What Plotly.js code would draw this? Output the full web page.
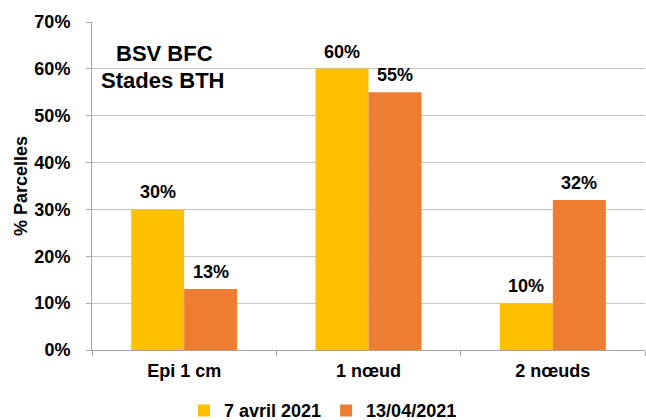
<!DOCTYPE html>
<html><head><meta charset="utf-8">
<script src="https://cdn.plot.ly/plotly-3.0.1.min.js"></script>
<style>html,body{margin:0;padding:0;background:#fff}#c{width:646px;height:420px}</style>
</head><body><div id="c"></div>
<script>
const categories = ["Epi 1 cm", "1 nœud", "2 nœuds"];
const seriesNames = ["7 avril 2021", "13/04/2021"];
const series1 = [0.30, 0.60, 0.10];
const series2 = [0.13, 0.55, 0.32];
const yTicks = [0, 0.1, 0.2, 0.3, 0.4, 0.5, 0.6, 0.7];
const yTickLabels = ["0%", "10%", "20%", "30%", "40%", "50%", "60%", "70%"];
const colors = ["#FFC000", "#ED7D31"];
const FONT = "Liberation Sans, Arial, sans-serif";

const traces = [series1, series2].map((vals, i) => ({
  type: "bar", name: seriesNames[i], x: categories, y: vals,
  marker: {color: colors[i]}, hoverinfo: "skip"
}));

const annotations = [];
[series1, series2].forEach((vals, i) => {
  vals.forEach((v, j) => annotations.push({
    x: categories[j], y: v, xref: "x", yref: "y",
    text: Math.round(v * 100) + "%", showarrow: false,
    xanchor: "center", yanchor: "bottom", xshift: i === 0 ? -26.5 : 26.5, yshift: 5,
    font: {family: FONT, size: 18, color: "#000", weight: "bold"}
  }));
});
annotations.push({xref: "paper", yref: "paper", x: 0.04, y: 0.905, xanchor: "left", yanchor: "middle",
  text: "<b>BSV BFC</b>", showarrow: false, font: {family: FONT, size: 22, color: "#000"}});
annotations.push({xref: "paper", yref: "paper", x: 0.012, y: 0.823, xanchor: "left", yanchor: "middle",
  text: "<b>Stades BTH</b>", showarrow: false, font: {family: FONT, size: 22, color: "#000"}});

const layout = {
  width: 646, height: 420,
  margin: {l: 92, r: 1, t: 22, b: 70, autoexpand: false},
  paper_bgcolor: "#fff", plot_bgcolor: "#fff",
  barmode: "group", bargap: 0.425, bargroupgap: 0,
  font: {family: FONT, color: "#000"},
  showlegend: true,
  legend: {orientation: "h", xref: "container", x: 0.5, xanchor: "center", yref: "container", y: 0.022, yanchor: "middle",
    font: {family: FONT, size: 18, color: "#000", weight: "bold"}, itemwidth: 30, tracegroupgap: 0},
  xaxis: {
    tickson: "boundaries", ticks: "outside", ticklen: 5, tickcolor: "#a6a6a6",
    showline: true, linecolor: "#a6a6a6", linewidth: 1, showgrid: false,
    ticklabelstandoff: 4,
    tickfont: {family: FONT, size: 18, color: "#000", weight: "bold"}
  },
  yaxis: {
    range: [0, 0.7], tickvals: yTicks, ticktext: yTickLabels,
    ticks: "outside", ticklen: 5, tickcolor: "#a6a6a6",
    showline: true, linecolor: "#a6a6a6", linewidth: 1,
    showgrid: true, gridcolor: "#c6c6c6", gridwidth: 1, zeroline: false,
    ticklabelstandoff: 12,
    tickfont: {family: FONT, size: 18, color: "#000", weight: "bold"},
    title: {text: "% Parcelles", font: {family: FONT, size: 18, color: "#000", weight: "bold"}, standoff: 2}
  },
  annotations: annotations
};
Plotly.newPlot("c", traces, layout, {displayModeBar: false, staticPlot: true});
</script></body></html>
